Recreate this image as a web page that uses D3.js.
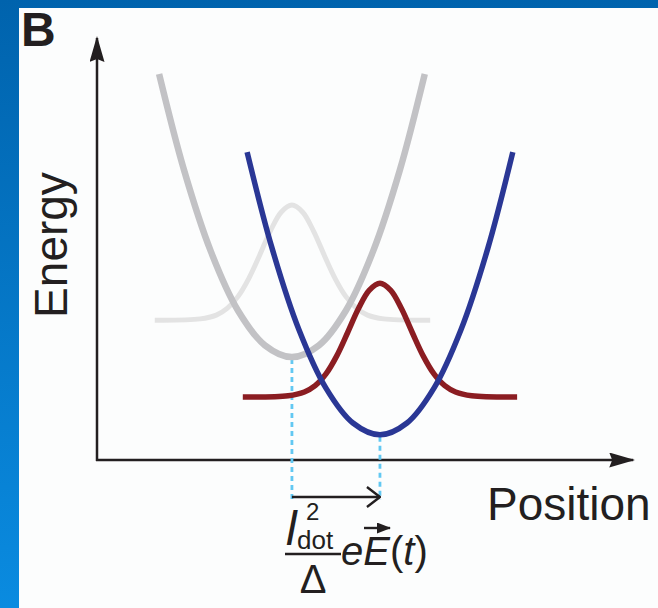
<!DOCTYPE html>
<html>
<head>
<meta charset="utf-8">
<script src="https://cdn.jsdelivr.net/npm/d3@7"></script>
<style>
  body { margin: 0; padding: 0; overflow: hidden; }
  svg { display: block; }
</style>
</head>
<body>
<div id="chart"></div>
<script>
// ---- data (position / energy in arbitrary units 0-100) ----
var grayWellX   = [11.5, 16.1, 21.1, 26.1, 31.1, 36.1, 41.1, 46.1, 51.1, 56.1, 60.7];
var grayWellY   = [91.9, 69.1, 49.6, 35.6, 27.3, 24.5, 27.3, 35.6, 49.6, 69.1, 91.9];
var blueWellX   = [27.8, 32.4, 37.4, 42.4, 47.4, 52.4, 57.4, 62.4, 67.4, 72.4, 77.0];
var blueWellY   = [73.3, 50.5, 31.0, 17.1, 8.8, 6.0, 8.8, 17.1, 31.0, 50.5, 73.3];
var grayWaveX   = [10.7, 19.1, 22.1, 24.1, 26.1, 28.1, 30.1, 32.1, 34.1, 36.1, 38.1, 40.1, 42.1, 44.1, 46.1, 48.1, 50.1, 53.1, 61.7];
var grayWaveY   = [33.3, 33.6, 34.5, 36.1, 38.9, 43.2, 48.7, 54.5, 59.0, 60.7, 59.0, 54.5, 48.7, 43.2, 38.9, 36.1, 34.5, 33.6, 33.3];
var redWaveX    = [27.0, 35.4, 38.4, 40.4, 42.4, 44.4, 46.4, 48.4, 50.4, 52.4, 54.4, 56.4, 58.4, 60.4, 62.4, 64.4, 66.4, 69.4, 77.8];
var redWaveY    = [15.0, 15.3, 16.2, 17.7, 20.5, 24.8, 30.3, 36.0, 40.4, 42.1, 40.4, 36.0, 30.3, 24.8, 20.5, 17.7, 16.2, 15.3, 15.0];
var minimaX     = [36.1, 52.4];   // well minima (dashed guides)
var minimaY     = [24.5, 6.0];
var shiftLevel  = -8.8;            // height of the displacement arrow

var W = 658, H = 608;
var svg = d3.select("#chart").append("svg")
    .attr("width", W).attr("height", H);

// background: blue slide frame + white panel
var defs = svg.append("defs");
var grad = defs.append("linearGradient").attr("id", "bg")
    .attr("x1", 0).attr("y1", 0).attr("x2", 0).attr("y2", 1);
grad.append("stop").attr("offset", "0%").attr("stop-color", "#0063ad");
grad.append("stop").attr("offset", "100%").attr("stop-color", "#0a8be0");
svg.append("rect").attr("width", W).attr("height", H).attr("fill", "url(#bg)");
svg.append("rect").attr("x", 19).attr("y", 8).attr("width", W - 19).attr("height", H - 8)
    .attr("fill", "#fcfdfd");

// arrow markers
defs.append("marker").attr("id", "axisHead")
    .attr("viewBox", "0 0 26 15").attr("refX", 24).attr("refY", 7.5)
    .attr("markerWidth", 26).attr("markerHeight", 15)
    .attr("markerUnits", "userSpaceOnUse").attr("orient", "auto")
  .append("path").attr("d", "M0,0 L26,7.5 L0,15 L3,7.5 Z").attr("fill", "#231f20");
defs.append("marker").attr("id", "openHead")
    .attr("viewBox", "0 0 15 22").attr("refX", 14).attr("refY", 11)
    .attr("markerWidth", 15).attr("markerHeight", 22)
    .attr("markerUnits", "userSpaceOnUse").attr("orient", "auto")
  .append("path").attr("d", "M1,1 L14,11 L1,21").attr("fill", "none")
    .attr("stroke", "#231f20").attr("stroke-width", 2.4);
defs.append("marker").attr("id", "vecHead")
    .attr("viewBox", "0 0 14 11").attr("refX", 13).attr("refY", 5.5)
    .attr("markerWidth", 14).attr("markerHeight", 11)
    .attr("markerUnits", "userSpaceOnUse").attr("orient", "auto")
  .append("path").attr("d", "M0,0 L14,5.5 L0,11 Z").attr("fill", "#231f20");

// scales
var x = d3.scaleLinear().domain([0, 100]).range([97, 637]);
var y = d3.scaleLinear().domain([0, 100]).range([460, 40]);

var line = d3.line()
    .x(function(d) { return x(d[0]); })
    .y(function(d) { return y(d[1]); })
    .curve(d3.curveCatmullRom.alpha(0.5));

function pts(xs, ys) { return xs.map(function(v, i) { return [v, ys[i]]; }); }

// axes
svg.append("line")
    .attr("x1", x(0)).attr("y1", y(0) + 1).attr("x2", x(0)).attr("y2", y(100) - 2)
    .attr("stroke", "#231f20").attr("stroke-width", 2.5)
    .attr("marker-end", "url(#axisHead)");
svg.append("line")
    .attr("x1", x(0) - 1).attr("y1", y(0)).attr("x2", x(99.3)).attr("y2", y(0))
    .attr("stroke", "#231f20").attr("stroke-width", 2.5)
    .attr("marker-end", "url(#axisHead)");

// dashed guides from minima down to the shift arrow
svg.selectAll(".guide")
    .data(minimaX)
    .enter().append("line")
    .attr("class", "guide")
    .attr("x1", function(d) { return x(d); })
    .attr("x2", function(d) { return x(d); })
    .attr("y1", function(d, i) { return y(minimaY[i]) + 2; })
    .attr("y2", y(shiftLevel) + 3)
    .attr("stroke", "#62c8f2").attr("stroke-width", 2.8)
    .attr("stroke-dasharray", "5,4");

// curves (back to front)
svg.append("path").attr("d", line(pts(grayWaveX, grayWaveY)))
    .attr("fill", "none").attr("stroke", "#e3e3e3").attr("stroke-width", 5);
svg.append("path").attr("d", line(pts(grayWellX, grayWellY)))
    .attr("fill", "none").attr("stroke", "#c2c2c5").attr("stroke-width", 6.5);
svg.append("path").attr("d", line(pts(redWaveX, redWaveY)))
    .attr("fill", "none").attr("stroke", "#8b1d22").attr("stroke-width", 5.5);
svg.append("path").attr("d", line(pts(blueWellX, blueWellY)))
    .attr("fill", "none").attr("stroke", "#2a3795").attr("stroke-width", 5.5);

// displacement arrow
svg.append("line")
    .attr("x1", x(minimaX[0])).attr("y1", y(shiftLevel))
    .attr("x2", x(minimaX[1])).attr("y2", y(shiftLevel))
    .attr("stroke", "#231f20").attr("stroke-width", 2.4)
    .attr("marker-end", "url(#openHead)");

// labels
var font = "Liberation Sans, Arial, sans-serif";
svg.append("text").attr("x", 21).attr("y", 46).text("B")
    .style("font-family", font).style("font-weight", "bold").style("font-size", "48px")
    .attr("fill", "#231f20");
svg.append("text")
    .attr("transform", "translate(67,245) rotate(-90)")
    .attr("text-anchor", "middle").text("Energy")
    .style("font-family", font).style("font-size", "46px").attr("fill", "#231f20");
svg.append("text").attr("x", 487).attr("y", 520).text("Position")
    .style("font-family", font).style("font-size", "46px").attr("fill", "#231f20");

// formula  (l_dot^2 / Δ) e E(t)
var f = svg.append("g").style("font-family", font).attr("fill", "#231f20");
f.append("text").attr("x", 286).attr("y", 545).text("l")
    .style("font-style", "italic").style("font-size", "48px");
f.append("text").attr("x", 306).attr("y", 520).text("2").style("font-size", "24px");
f.append("text").attr("x", 297).attr("y", 549).text("dot").style("font-size", "26px");
f.append("line").attr("x1", 285).attr("x2", 341).attr("y1", 554).attr("y2", 554)
    .attr("stroke", "#231f20").attr("stroke-width", 2.4);
f.append("text").attr("x", 313).attr("y", 593).attr("text-anchor", "middle").text("Δ")
    .style("font-size", "40px");
var eq = f.append("text").attr("x", 341).attr("y", 565).style("font-size", "40px");
eq.append("tspan").text("eE").style("font-style", "italic");
eq.append("tspan").text("(");
eq.append("tspan").text("t").style("font-style", "italic");
eq.append("tspan").text(")");
f.append("line").attr("x1", 364).attr("x2", 390).attr("y1", 528).attr("y2", 528)
    .attr("stroke", "#231f20").attr("stroke-width", 2.4)
    .attr("marker-end", "url(#vecHead)");
</script>
</body>
</html>
